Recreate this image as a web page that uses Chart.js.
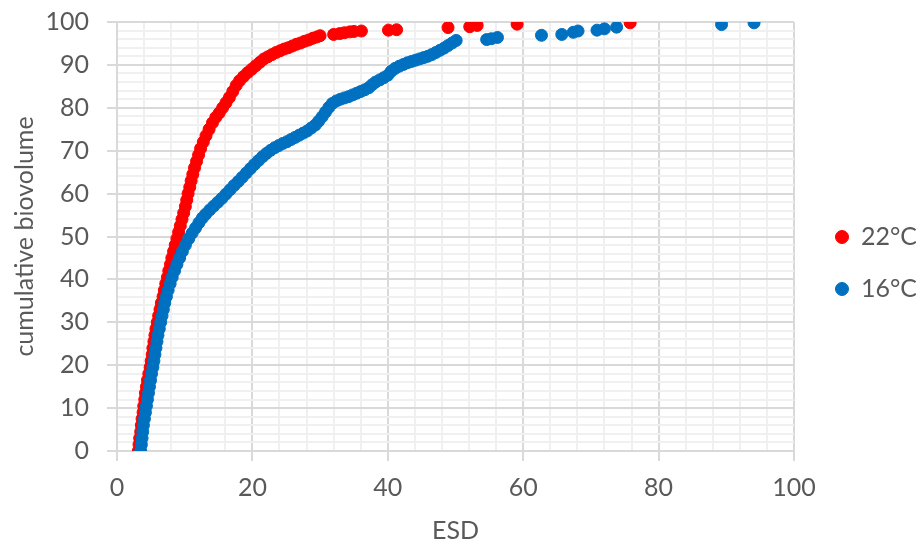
<!DOCTYPE html>
<html>
<head>
<meta charset="utf-8">
<script src="https://cdn.jsdelivr.net/npm/chart.js@4.4.1/dist/chart.umd.min.js"></script>
<style>
  html, body { margin: 0; padding: 0; background: #fff; }
  #wrap { width: 916px; height: 540px; }
</style>
</head>
<body>
<div id="wrap"><canvas id="esdChart" width="916" height="540"></canvas></div>
<script>
// legend / series names
const seriesNames = ['22°C', '16°C'];
const seriesColors = ['#FF0000', '#0070C0'];

// 22°C series: ESD and cumulative biovolume (%)
const esd22 = [3.15, 3.25, 3.35, 3.5, 3.6, 3.7, 3.85, 3.95, 4.1, 4.2, 4.35, 4.5, 4.7, 4.9, 5.05, 5.2, 5.3, 5.45, 5.6, 5.75,
  5.95, 6.15, 6.35, 6.55, 6.8, 7, 7.2, 7.45, 7.65, 7.9, 8.1, 8.35, 8.6, 8.85, 9.1, 9.35, 9.6, 9.85, 10.1, 10.3,
  10.5, 10.75, 10.95, 11.2, 11.45, 11.75, 12.05, 12.35, 12.75, 13.15, 13.6, 14.1, 14.6, 15.1, 15.6, 16.1, 16.6, 17.1, 17.6, 18.1,
  18.7, 19.3, 19.9, 20.5, 21.1, 21.7, 22.3, 22.9, 23.5, 24.1, 24.7, 25.3, 25.9, 26.5, 27.1, 27.7, 28.3, 28.9, 29.5, 30,
  32, 32.9, 33.6, 34.4, 35, 36.1, 40.1, 41.3, 48.9, 52.1, 53.2, 59.1, 75.8];
const vol22 = [0, 1.5, 3, 4.5, 6, 7.5, 9, 10.5, 12, 13.5, 15, 16.5, 18, 19.5, 21, 22.5, 24, 25.5, 27, 28.5,
  30, 31.5, 33, 34.5, 36, 37.5, 39, 40.5, 42, 43.5, 45, 46.5, 48, 49.5, 51, 52.5, 54, 55.5, 57, 58.5,
  60, 61.5, 63, 64.5, 66, 67.5, 69, 70.5, 72, 73.5, 75, 76.5, 77.8, 78.8, 80, 81.2, 82.4, 83.8, 85.2, 86.3,
  87.3, 88.2, 89, 89.8, 90.6, 91.4, 91.9, 92.4, 92.9, 93.3, 93.7, 94, 94.4, 94.8, 95.1, 95.5, 95.8, 96.2, 96.5, 96.8,
  97.1, 97.3, 97.5, 97.7, 97.8, 97.9, 98.1, 98.2, 98.7, 98.9, 99.2, 99.5, 99.8];

// 16°C series
const esd16 = [3.5, 3.6, 3.7, 3.8, 3.9, 4.05, 4.2, 4.35, 4.5, 4.65, 4.8, 4.95, 5.1, 5.3, 5.45, 5.6, 5.75, 5.9, 6.05, 6.25,
  6.45, 6.65, 6.85, 7.05, 7.3, 7.55, 7.85, 8.15, 8.5, 8.85, 9.25, 9.65, 10.1, 10.6, 11.1, 11.6, 12.1, 12.6, 13.1, 13.7,
  14.3, 14.9, 15.5, 16.1, 16.7, 17.3, 17.9, 18.5, 19.1, 19.7, 20.3, 20.9, 21.5, 22.1, 22.7, 23.3, 23.9, 24.5, 25.1, 25.7,
  26.3, 26.9, 27.5, 28.1, 28.7, 29.3, 29.8, 30.3, 30.8, 31.3, 31.8, 32.4, 33, 33.6, 34.2, 34.8, 35.4, 36, 36.6, 37.2,
  37.7, 38.2, 38.8, 39.4, 40, 40.5, 41.1, 41.7, 42.3, 42.9, 43.5, 44.1, 44.7, 45.3, 45.9, 46.5, 47.1, 47.7, 48.3, 48.9,
  49.5, 50.1, 54.6, 55.3, 56.2, 62.7, 65.7, 67.4, 68.1, 70.9, 72, 73.8, 89.3, 94.1];
const vol16 = [0, 1.5, 3, 4.5, 6, 7.5, 9, 10.5, 12, 13.5, 15, 16.5, 18, 19.5, 21, 22.5, 24, 25.5, 27, 28.5,
  30, 31.5, 33, 34.5, 36, 37.5, 39, 40.5, 42, 43.5, 45, 46.5, 48, 49.5, 50.8, 52, 53.2, 54.3, 55.2, 56.2,
  57.1, 58, 58.9, 59.9, 60.9, 61.9, 62.8, 63.8, 64.8, 65.8, 66.8, 67.7, 68.6, 69.4, 70.1, 70.7, 71.2, 71.7, 72.1, 72.6,
  73.1, 73.6, 74.1, 74.6, 75.3, 76, 76.9, 77.9, 79, 80.1, 81, 81.6, 82, 82.3, 82.6, 83, 83.4, 83.8, 84.2, 84.7,
  85.4, 86, 86.5, 87, 87.6, 88.5, 89.2, 89.7, 90.1, 90.5, 90.8, 91.1, 91.4, 91.7, 92, 92.4, 92.9, 93.4, 93.9, 94.5,
  95.1, 95.7, 95.9, 96.1, 96.4, 96.9, 97.1, 97.6, 97.9, 98.1, 98.4, 98.8, 99.4, 99.8];

// axis settings
const xMin = 0, xMax = 100, xMajor = 20, xMinor = 4;
const yMin = 0, yMax = 100, yMajor = 10, yMinor = 2;

const textColor = '#595959';
const majorGrid = '#d9d9d9';
const minorGrid = '#f0f0f0';
const labelFont = { family: 'Lato', size: 25 };

function toPoints(xs, ys) {
    return xs.map((x, i) => ({ x: x, y: ys[i] }));
}

function gridColor(step) {
    return ctx => (ctx.tick && Math.abs(ctx.tick.value % step) < 1e-6) ? majorGrid : minorGrid;
}

function tickMarkColor(step) {
    return ctx => (ctx.tick && Math.abs(ctx.tick.value % step) < 1e-6) ? majorGrid : 'rgba(0,0,0,0)';
}

const ctx = document.getElementById('esdChart').getContext('2d');
const esdChart = new Chart(ctx, {
    type: 'scatter',
    data: {
        datasets: [{
            label: seriesNames[0],
            data: toPoints(esd22, vol22),
            backgroundColor: seriesColors[0],
            borderColor: seriesColors[0],
            borderWidth: 0,
            pointRadius: 6,
            pointBorderWidth: 1,
            order: 1
        }, {
            label: seriesNames[1],
            data: toPoints(esd16, vol16),
            backgroundColor: seriesColors[1],
            borderColor: seriesColors[1],
            borderWidth: 0,
            pointRadius: 6,
            pointBorderWidth: 1,
            order: 0
        }]
    },
    options: {
        responsive: false,
        animation: false,
        events: [],
        layout: { padding: { left: 0, right: 0, top: 22, bottom: 36 } },
        plugins: {
            tooltip: { enabled: false },
            legend: {
                position: 'right',
                maxWidth: 107.5,
                labels: {
                    usePointStyle: true,
                    pointStyle: 'circle',
                    boxWidth: 13,
                    boxHeight: 9.2,
                    padding: 27,
                    color: textColor,
                    font: labelFont,
                    sort: (a, b) => a.datasetIndex - b.datasetIndex
                }
            }
        },
        scales: {
            x: {
                type: 'linear',
                min: xMin,
                max: xMax,
                afterFit: s => { s.height = 53; },
                border: { display: true, color: majorGrid, width: 2 },
                grid: {
                    color: gridColor(xMajor),
                    lineWidth: 2,
                    tickLength: 10,
                    tickColor: tickMarkColor(xMajor),
                    tickWidth: 2
                },
                ticks: {
                    stepSize: xMinor,
                    autoSkip: false,
                    maxRotation: 0,
                    minRotation: 0,
                    padding: 12,
                    color: textColor,
                    font: labelFont,
                    callback: v => (v % xMajor === 0 ? v : '')
                },
                title: {
                    display: true,
                    text: 'ESD',
                    color: textColor,
                    font: { family: 'Lato', size: 25, lineHeight: 1 },
                    padding: { top: 0, bottom: -39.5 }
                }
            },
            y: {
                type: 'linear',
                min: yMin,
                max: yMax,
                afterFit: s => {
                    s.width = 117;
                    s.paddingTop = 0;
                    s.paddingBottom = 0;
                },
                border: { display: true, color: majorGrid, width: 2 },
                grid: {
                    color: gridColor(yMajor),
                    lineWidth: 2,
                    tickLength: 10,
                    tickColor: tickMarkColor(yMajor),
                    tickWidth: 2
                },
                ticks: {
                    stepSize: yMinor,
                    autoSkip: false,
                    padding: 18,
                    color: textColor,
                    font: labelFont,
                    callback: v => (v % yMajor === 0 ? v : '')
                },
                title: {
                    display: true,
                    text: 'cumulative biovolume',
                    color: textColor,
                    font: { family: 'Lato', size: 25, lineHeight: 1.2 },
                    padding: { top: 10, bottom: 0 }
                }
            },
            // empty spacer between plot area and legend
            gap: {
                type: 'linear',
                position: 'right',
                display: true,
                afterFit: s => {
                    s.width = 14.5;
                    s.paddingTop = 0;
                    s.paddingBottom = 0;
                },
                grid: { display: false },
                border: { display: false },
                ticks: { display: false }
            }
        }
    }
});
</script>
</body>
</html>
